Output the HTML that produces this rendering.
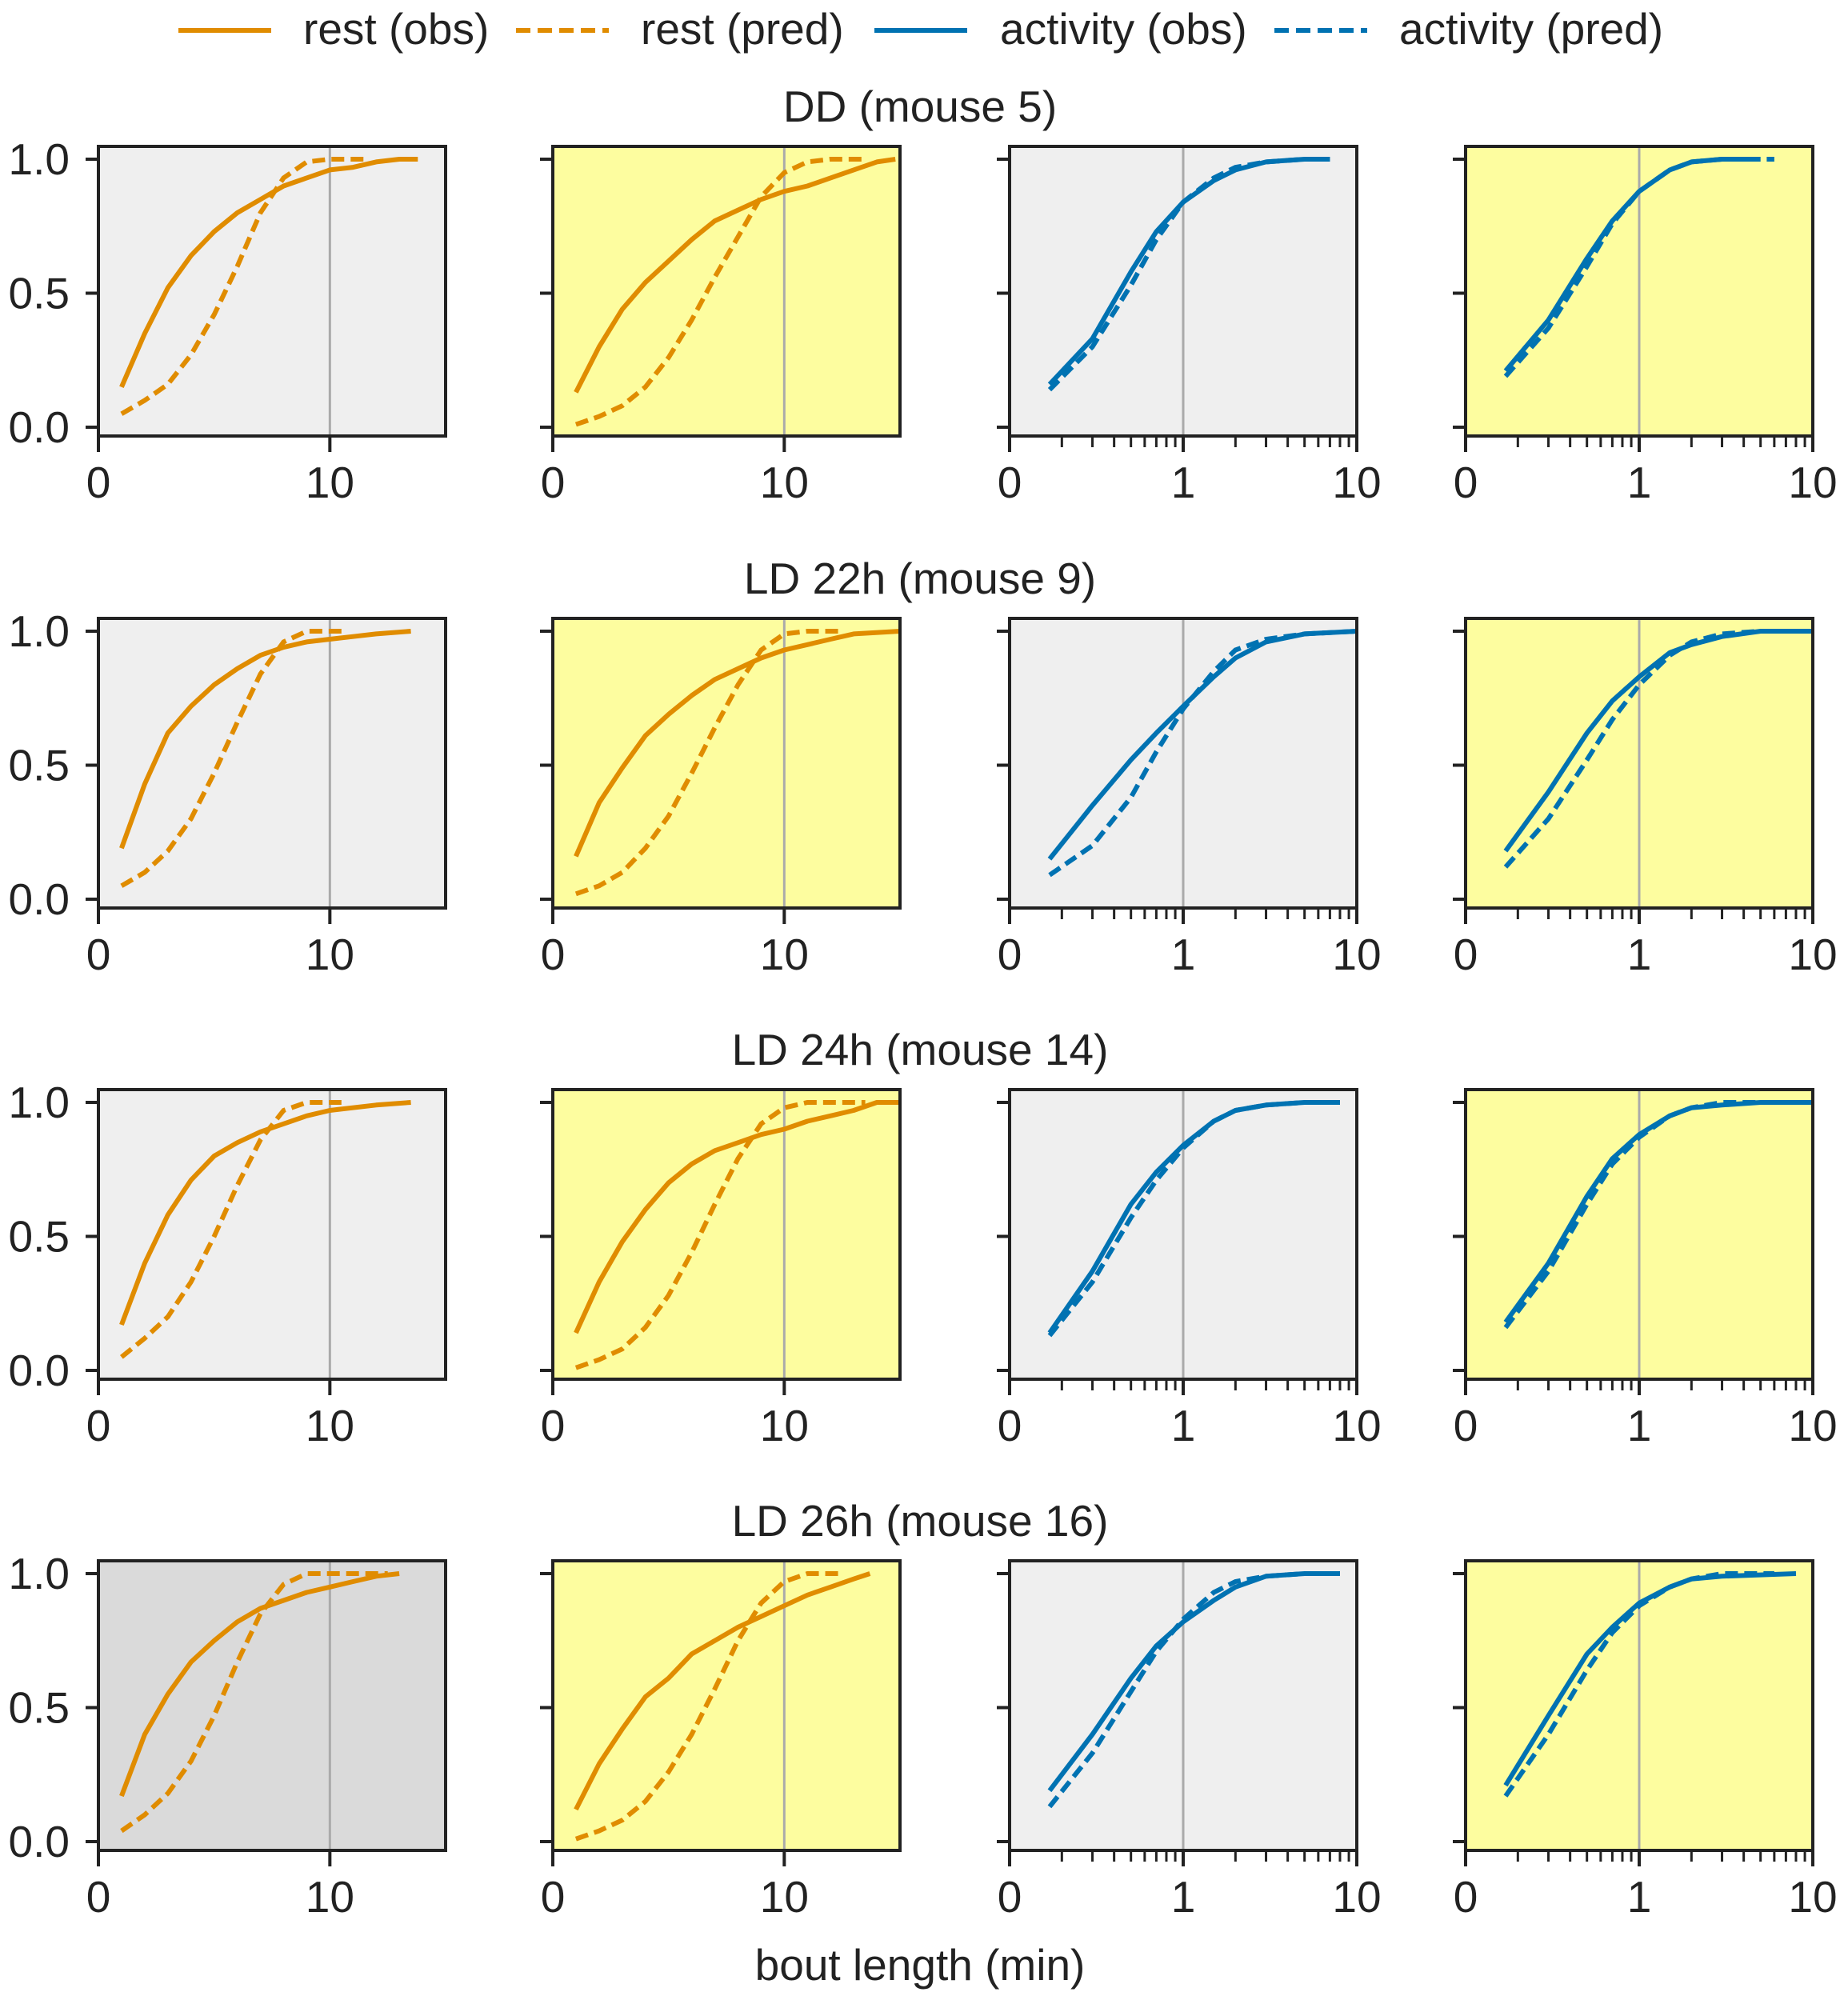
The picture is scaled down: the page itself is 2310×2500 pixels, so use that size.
<!DOCTYPE html>
<html><head><meta charset="utf-8"><style>
body{margin:0;background:#fff}
svg{display:block;font-family:"Liberation Sans",sans-serif}
</style></head><body>
<svg id="fig" width="2310" height="2500" viewBox="0 0 2310 2500" xmlns="http://www.w3.org/2000/svg"></svg>
<script>
// ---- data ----
const rowTitles = ["DD (mouse 5)", "LD 22h (mouse 9)", "LD 24h (mouse 14)", "LD 26h (mouse 16)"];
const legendLabels = ["rest (obs)", "rest (pred)", "activity (obs)", "activity (pred)"];
const linTickLabels = ["0", "10"];
const logTickLabels = ["0", "1", "10"];
const yTickLabels = ["0.0", "0.5", "1.0"];

// row 1
const r1c1ObsX=[1,2,3,4,5,6,7,8,9,10,11,12,13,13.8];
const r1c1ObsY=[0.15,0.35,0.52,0.64,0.73,0.8,0.85,0.9,0.93,0.96,0.97,0.99,1.0,1.0];
const r1c1PredX=[1,2,3,4,5,6,7,8,9,10,11.5];
const r1c1PredY=[0.05,0.1,0.16,0.27,0.42,0.6,0.8,0.93,0.99,1.0,1.0];
const r1c2ObsX=[1,2,3,4,5,6,7,8,9,10,11,12,13,14,14.8];
const r1c2ObsY=[0.13,0.3,0.44,0.54,0.62,0.7,0.77,0.81,0.85,0.88,0.9,0.93,0.96,0.99,1.0];
const r1c2PredX=[1,2,3,4,5,6,7,8,9,10,11,12,13.5];
const r1c2PredY=[0.01,0.04,0.08,0.15,0.26,0.4,0.56,0.71,0.86,0.95,0.99,1.0,1.0];
const r1c3ObsX=[0.17,0.3,0.5,0.7,1,1.5,2,3,5,7];
const r1c3ObsY=[0.16,0.33,0.58,0.73,0.84,0.92,0.96,0.99,1.0,1.0];
const r1c3PredX=[0.17,0.3,0.5,0.7,1,1.5,2,3,5,7];
const r1c3PredY=[0.14,0.3,0.53,0.7,0.84,0.93,0.97,0.99,1.0,1.0];
const r1c4ObsX=[0.17,0.3,0.5,0.7,1,1.5,2,3,5];
const r1c4ObsY=[0.21,0.4,0.63,0.77,0.88,0.96,0.99,1.0,1.0];
const r1c4PredX=[0.17,0.3,0.5,0.7,1,1.5,2,3,6];
const r1c4PredY=[0.19,0.37,0.6,0.76,0.88,0.96,0.99,1.0,1.0];
// row 2
const r2c1ObsX=[1,2,3,4,5,6,7,8,9,10,11,12,13.5];
const r2c1ObsY=[0.19,0.43,0.62,0.72,0.8,0.86,0.91,0.94,0.96,0.97,0.98,0.99,1.0];
const r2c1PredX=[1,2,3,4,5,6,7,8,9,10.5];
const r2c1PredY=[0.05,0.1,0.18,0.3,0.47,0.66,0.84,0.96,1.0,1.0];
const r2c2ObsX=[1,2,3,4,5,6,7,8,9,10,11,12,13,15];
const r2c2ObsY=[0.16,0.36,0.49,0.61,0.69,0.76,0.82,0.86,0.9,0.93,0.95,0.97,0.99,1.0];
const r2c2PredX=[1,2,3,4,5,6,7,8,9,10,11,12.5];
const r2c2PredY=[0.02,0.05,0.1,0.19,0.31,0.47,0.64,0.8,0.93,0.99,1.0,1.0];
const r2c3ObsX=[0.17,0.3,0.5,0.7,1,1.5,2,3,5,10];
const r2c3ObsY=[0.15,0.35,0.52,0.62,0.72,0.83,0.9,0.96,0.99,1.0];
const r2c3PredX=[0.17,0.3,0.5,0.7,1,1.5,2,3,5,10];
const r2c3PredY=[0.09,0.2,0.38,0.55,0.71,0.85,0.93,0.97,0.99,1.0];
const r2c4ObsX=[0.17,0.3,0.5,0.7,1,1.5,2,3,5,10];
const r2c4ObsY=[0.18,0.4,0.62,0.74,0.83,0.92,0.95,0.98,1.0,1.0];
const r2c4PredX=[0.17,0.3,0.5,0.7,1,1.5,2,3,5];
const r2c4PredY=[0.12,0.3,0.52,0.67,0.8,0.91,0.96,0.99,1.0];
// row 3
const r3c1ObsX=[1,2,3,4,5,6,7,8,9,10,12,13.5];
const r3c1ObsY=[0.17,0.4,0.58,0.71,0.8,0.85,0.89,0.92,0.95,0.97,0.99,1.0];
const r3c1PredX=[1,2,3,4,5,6,7,8,9,10.5];
const r3c1PredY=[0.05,0.12,0.2,0.33,0.5,0.69,0.86,0.97,1.0,1.0];
const r3c2ObsX=[1,2,3,4,5,6,7,8,9,10,11,12,13,14,15];
const r3c2ObsY=[0.14,0.33,0.48,0.6,0.7,0.77,0.82,0.85,0.88,0.9,0.93,0.95,0.97,1.0,1.0];
const r3c2PredX=[1,2,3,4,5,6,7,8,9,10,11,13.5];
const r3c2PredY=[0.01,0.04,0.08,0.16,0.28,0.44,0.62,0.79,0.92,0.98,1.0,1.0];
const r3c3ObsX=[0.17,0.3,0.5,0.7,1,1.5,2,3,5,8];
const r3c3ObsY=[0.14,0.37,0.62,0.74,0.84,0.93,0.97,0.99,1.0,1.0];
const r3c3PredX=[0.17,0.3,0.5,0.7,1,1.5,2,3,5,8];
const r3c3PredY=[0.13,0.33,0.57,0.71,0.83,0.93,0.97,0.99,1.0,1.0];
const r3c4ObsX=[0.17,0.3,0.5,0.7,1,1.5,2,3,5,10];
const r3c4ObsY=[0.18,0.4,0.65,0.79,0.88,0.95,0.98,0.99,1.0,1.0];
const r3c4PredX=[0.17,0.3,0.5,0.7,1,1.5,2,3,6];
const r3c4PredY=[0.16,0.37,0.62,0.77,0.87,0.95,0.98,1.0,1.0];
// row 4
const r4c1ObsX=[1,2,3,4,5,6,7,8,9,10,11,12,13];
const r4c1ObsY=[0.17,0.4,0.55,0.67,0.75,0.82,0.87,0.9,0.93,0.95,0.97,0.99,1.0];
const r4c1PredX=[1,2,3,4,5,6,7,8,9,12.5];
const r4c1PredY=[0.04,0.1,0.18,0.3,0.47,0.67,0.85,0.96,1.0,1.0];
const r4c2ObsX=[1,2,3,4,5,6,7,8,9,10,11,12,13,13.7];
const r4c2ObsY=[0.12,0.29,0.42,0.54,0.61,0.7,0.75,0.8,0.84,0.88,0.92,0.95,0.98,1.0];
const r4c2PredX=[1,2,3,4,5,6,7,8,9,10,11,12.5];
const r4c2PredY=[0.01,0.04,0.08,0.15,0.26,0.4,0.57,0.75,0.89,0.97,1.0,1.0];
const r4c3ObsX=[0.17,0.3,0.5,0.7,1,1.5,2,3,5,8];
const r4c3ObsY=[0.19,0.4,0.61,0.73,0.82,0.9,0.95,0.99,1.0,1.0];
const r4c3PredX=[0.17,0.3,0.5,0.7,1,1.5,2,3,5];
const r4c3PredY=[0.13,0.33,0.56,0.71,0.83,0.93,0.97,0.99,1.0];
const r4c4ObsX=[0.17,0.3,0.5,0.7,1,1.5,2,3,8];
const r4c4ObsY=[0.21,0.47,0.7,0.8,0.89,0.95,0.98,0.99,1.0];
const r4c4PredX=[0.17,0.3,0.5,0.7,1,1.5,2,3,6];
const r4c4PredY=[0.17,0.4,0.64,0.78,0.88,0.95,0.98,1.0,1.0];

const panelData = [
 [[r1c1ObsX,r1c1ObsY,r1c1PredX,r1c1PredY],[r1c2ObsX,r1c2ObsY,r1c2PredX,r1c2PredY],[r1c3ObsX,r1c3ObsY,r1c3PredX,r1c3PredY],[r1c4ObsX,r1c4ObsY,r1c4PredX,r1c4PredY]],
 [[r2c1ObsX,r2c1ObsY,r2c1PredX,r2c1PredY],[r2c2ObsX,r2c2ObsY,r2c2PredX,r2c2PredY],[r2c3ObsX,r2c3ObsY,r2c3PredX,r2c3PredY],[r2c4ObsX,r2c4ObsY,r2c4PredX,r2c4PredY]],
 [[r3c1ObsX,r3c1ObsY,r3c1PredX,r3c1PredY],[r3c2ObsX,r3c2ObsY,r3c2PredX,r3c2PredY],[r3c3ObsX,r3c3ObsY,r3c3PredX,r3c3PredY],[r3c4ObsX,r3c4ObsY,r3c4PredX,r3c4PredY]],
 [[r4c1ObsX,r4c1ObsY,r4c1PredX,r4c1PredY],[r4c2ObsX,r4c2ObsY,r4c2PredX,r4c2PredY],[r4c3ObsX,r4c3ObsY,r4c3PredX,r4c3PredY],[r4c4ObsX,r4c4ObsY,r4c4PredX,r4c4PredY]]
];

// ---- layout ----
const NS="http://www.w3.org/2000/svg";
const svg=document.getElementById('fig');
const ORANGE="#e08c00", BLUE="#0072b2";
const colL=[123,691,1262,1832], colW=434;
const rowT=[183,773,1362,1951], rowH=362;
const Y0OFF=351, Y1OFF=16;
const FS=55;
const bgs=[["#efefef","#fdfd9f","#efefef","#fdfd9f"],["#efefef","#fdfd9f","#efefef","#fdfd9f"],["#efefef","#fdfd9f","#efefef","#fdfd9f"],["#dadada","#fdfd9f","#efefef","#fdfd9f"]];

function mk(tag,attrs,parent){const e=document.createElementNS(NS,tag);for(const k in attrs)e.setAttribute(k,attrs[k]);(parent||svg).appendChild(e);return e;}

// legend
const legColors=[ORANGE,ORANGE,BLUE,BLUE];
const legDash=[null,"18,9",null,"18,9"];
const legLineX=[223,645,1093,1593];
const legTextX=[379,801,1250,1749];
legendLabels.forEach((lab,i)=>{
  const g=mk('g',{});
  
  
  const a={x1:legLineX[i],x2:legLineX[i]+116,y1:38,y2:38,stroke:legColors[i],'stroke-width':6};
  if(legDash[i])a['stroke-dasharray']=legDash[i];
  mk('line',a,g);
  const t=mk('text',{x:legTextX[i],y:55,'font-size':FS,fill:'#222'},g);
  t.textContent=lab;
});

function yPix(r,v){return rowT[r]+Y0OFF-(Y0OFF-Y1OFF)*v;}
function xLin(c,v){return colL[c]+colW*v/15;}
function xLog(c,v){return colL[c]+colW*(Math.log10(v)+1)/2;}

for(let r=0;r<4;r++){
  const tt=mk('text',{x:1150,y:rowT[r]-31,'text-anchor':'middle','font-size':FS,fill:'#222'});
  
  
  tt.textContent=rowTitles[r];
  for(let c=0;c<4;c++){
    const g=mk('g',{});
    
    
    const L=colL[c],T=rowT[r],B=T+rowH;
    const isLog=c>=2;
    const xf=isLog?(v=>xLog(c,v)):(v=>xLin(c,v));
    mk('rect',{x:L,y:T,width:colW,height:rowH,fill:bgs[r][c]},g);
    const rv=isLog?1:10;
    mk('line',{x1:xf(rv),x2:xf(rv),y1:T,y2:B,stroke:'#aaaaaa','stroke-width':3},g);
    const d=panelData[r][c];
    const col=isLog?BLUE:ORANGE;
    const pts=(xs,ys)=>xs.map((x,i)=>xf(x).toFixed(1)+','+yPix(r,ys[i]).toFixed(1)).join(' ');
    const obs=mk('polyline',{points:pts(d[0],d[1]),fill:'none',stroke:col,'stroke-width':6,'stroke-linejoin':'round'},g);
    
    
    const pr=mk('polyline',{points:pts(d[2],d[3]),fill:'none',stroke:col,'stroke-width':6,'stroke-dasharray':'16,8'},g);
    
    
    mk('rect',{x:L,y:T,width:colW,height:rowH,fill:'none',stroke:'#222','stroke-width':4},g);
    [0,0.5,1].forEach((v,i)=>{
      const y=yPix(r,v);
      mk('line',{x1:L-16,x2:L,y1:y,y2:y,stroke:'#222','stroke-width':4},g);
      if(c===0){const t=mk('text',{x:L-36,y:y+19,'text-anchor':'end','font-size':FS,fill:'#222'},g);t.textContent=yTickLabels[i];}
    });
    const maj=isLog?[0.1,1,10]:[0,10];
    const labs=isLog?logTickLabels:linTickLabels;
    maj.forEach((v,i)=>{
      const x=xf(v);
      mk('line',{x1:x,x2:x,y1:B,y2:B+20,stroke:'#222','stroke-width':4},g);
      const t=mk('text',{x:x,y:B+77,'text-anchor':'middle','font-size':FS,fill:'#222'},g);
      t.textContent=labs[i];
    });
    if(isLog){
      [0.1,1].forEach(dec=>{for(let k=2;k<=9;k++){const x=xf(dec*k);mk('line',{x1:x,x2:x,y1:B,y2:B+14,stroke:'#222','stroke-width':3},g);}});
    }
  }
}
const xl=mk('text',{x:1150,y:2475,'text-anchor':'middle','font-size':FS,fill:'#222'});


xl.textContent='bout length (min)';
</script>
</body></html>
